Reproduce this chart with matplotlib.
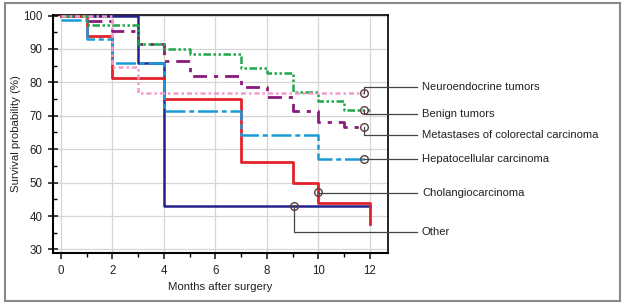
import matplotlib.pyplot as plt
from matplotlib.patches import Rectangle

plt.rcParams['font.family'] = ['Liberation Sans', 'DejaVu Sans']

# Kaplan-Meier steps (months, survival %)
other_t = [0, 3, 4, 12]
other_s = [100, 85.7, 42.9, 42.9]
chol_t = [0, 1, 2, 4, 7, 9, 10, 12]
chol_s = [100, 93.8, 81.3, 75.0, 56.3, 50.0, 43.8, 37.5]
hcc_t = [0, 1, 2, 4, 7, 10, 11.75]
hcc_s = [98.8, 93.0, 85.7, 71.4, 64.3, 57.1, 57.1]
meta_t = [0, 1, 2, 3, 4, 5, 7, 8, 9, 10, 11, 11.75]
meta_s = [100, 98.5, 95.5, 91.4, 86.3, 81.9, 78.6, 75.7, 71.4, 68.2, 66.6, 66.6]
benign_t = [0, 1, 3, 4, 5, 7, 8, 9, 10, 11, 12]
benign_s = [100, 97.2, 91.4, 90.0, 88.6, 84.3, 82.8, 77.1, 74.3, 71.6, 71.6]
neuro_t = [0, 2, 3, 11.75]
neuro_s = [100, 84.6, 76.9, 76.9]

labels = ['Neuroendocrine tumors', 'Benign tumors', 'Metastases of colorectal carcinoma',
          'Hepatocellular carcinoma', 'Cholangiocarcinoma', 'Other']
mark_x = [11.75, 11.75, 11.75, 11.75, 10, 9.05]
mark_y = [76.9, 71.6, 66.6, 57.1, 47.1, 42.9]
label_y = [78.5, 70.6, 64.3, 57.1, 46.9, 35.3]

fig = plt.figure(figsize=(6.25, 3.04), dpi=100)
fig.patches.append(Rectangle((5 / 625, 3 / 304), 615 / 625, 298 / 304, transform=fig.transFigure,
                             fill=False, edgecolor='#8a8a8a', lw=1.5))
ax = fig.add_axes([53 / 625, 1 - 253 / 304, 335 / 625, 238 / 304])

ax.step(other_t, other_s, where='post', color='#23228a', lw=1.8, zorder=3)
ax.step(chol_t, chol_s, where='post', color='#e4222b', lw=2, zorder=3)
ax.step(hcc_t, hcc_s, where='post', color='#1b9ad6', lw=1.8, dashes=(8, 1.5, 2, 1.5), zorder=4)
ax.step(meta_t, meta_s, where='post', color='#8b1a7c', lw=2, dashes=(5, 2.5, 1.5, 2.5), zorder=5)
ax.step(benign_t, benign_s, where='post', color='#1ea84b', lw=1.8, dashes=(3, 1, 1, 1, 1, 1), zorder=5)
ax.step(neuro_t, neuro_s, where='post', color='#f39bcb', lw=1.8, dashes=(2, 1.2, 1, 1.2), zorder=6)

for lab, mx, my, ly in zip(labels, mark_x, mark_y, label_y):
    ax.plot([mx, mx, 13.83], [my, ly, ly], color='#444444', lw=0.9, clip_on=False, zorder=7)
    ax.plot(mx, my, 'o', ms=5.5, mfc='none', mec='#5a3b40', mew=1, zorder=8, clip_on=False)
    ax.text(14.02, ly, lab, fontsize=8.1, color='#222222', va='center', ha='left')

ax.set_xlim(-0.31, 12.7)
ax.set_ylim(28.95, 100.15)
ax.set_xticks(range(0, 13, 2))
ax.set_xticks(range(1, 13, 2), minor=True)
ax.set_yticks(range(30, 101, 10))
ax.set_yticks(range(35, 100, 10), minor=True)
ax.grid(True, which='major', color='#d6d6d6', lw=0.9)
ax.set_axisbelow(True)
ax.tick_params(axis='x', which='major', direction='out', length=4, width=1.2, labelsize=8.3,
               colors='#222222', pad=5)
ax.tick_params(axis='x', which='minor', direction='out', length=3, width=1)
ax.tick_params(axis='y', which='major', direction='inout', length=7, width=1.2, labelsize=8.3,
               colors='#222222', pad=4)
ax.tick_params(axis='y', which='minor', direction='in', length=3, width=1)
for s in ax.spines.values():
    s.set_linewidth(1.5)
    s.set_color('black')
ax.spines['top'].set_linewidth(1.2)
ax.spines['right'].set_linewidth(1.2)

ax.set_xlabel('Months after surgery', fontsize=8.2, color='#222222')
ax.set_ylabel('Survival probability (%)', fontsize=8.2, color='#222222')
ax.xaxis.set_label_coords(0.5, -29 / 238)
ax.yaxis.set_label_coords(-32 / 335, 0.5)

fig.savefig('out.png', dpi=100)
